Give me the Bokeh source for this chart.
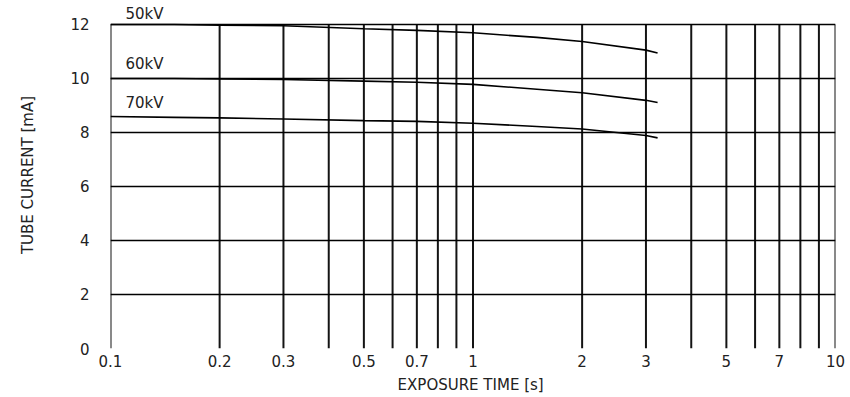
from bokeh.plotting import figure
from bokeh.models import FixedTicker, Label, Range1d, ColumnDataSource
from bokeh.embed import file_html
from bokeh.resources import INLINE

# ---- data ----
time_s = [0.1, 0.15, 0.2, 0.3, 0.5, 0.7, 1.0, 1.5, 2.0, 3.0, 3.23]
i_50kv = [12.0, 12.0, 11.97, 11.95, 11.84, 11.78, 11.69, 11.52, 11.37, 11.05, 10.94]
i_60kv = [10.0, 10.0, 9.98, 9.96, 9.90, 9.86, 9.78, 9.60, 9.47, 9.19, 9.11]
i_70kv = [8.59, 8.56, 8.54, 8.50, 8.44, 8.41, 8.34, 8.22, 8.13, 7.89, 7.80]

series_names = ["50kV", "60kV", "70kV"]
label_x = [0.11, 0.11, 0.11]
label_y = [12.07, 10.19, 8.74]

x_major = [0.1, 0.2, 0.3, 0.5, 0.7, 1, 2, 3, 5, 7, 10]
x_minor = [0.4, 0.6, 0.8, 0.9, 4, 6, 8, 9]
x_tick_labels = ["0.1", "0.2", "0.3", "0.5", "0.7", "1", "2", "3", "5", "7", "10"]
y_ticks = [0, 2, 4, 6, 8, 10, 12]
y_min, y_max = 0, 12

FONT = "DejaVu Sans"
TXT = "#222222"

# the y range reaches a little above 12 so that the "50kV" label (which sits above
# the top grid line) is drawn inside the frame; the box itself ends at 12.
p = figure(width=848, height=397, output_backend="svg", toolbar_location=None,
           x_axis_type="log", x_range=Range1d(0.1, 10), y_range=Range1d(0, 12.85),
           min_border_left=110, min_border_right=13, min_border_top=1, min_border_bottom=49)

# vertical grid lines (major + minor), drawn from 0 to 12 only
grid_x = sorted(x_major + x_minor)
p.segment(x0=grid_x, x1=grid_x, y0=[y_min] * len(grid_x), y1=[y_max] * len(grid_x),
          line_color="black", line_width=2, line_alpha=0.92)

src = ColumnDataSource(dict(t=time_s, a=i_50kv, b=i_60kv, c=i_70kv))
for col in ["a", "b", "c"]:
    p.line("t", col, source=src, line_color="black", line_width=1.6)

for name, lx, ly in zip(series_names, label_x, label_y):
    p.add_layout(Label(x=lx, y=ly, text=name, text_font=FONT, text_font_size="15px",
                       text_color=TXT, text_baseline="bottom", text_align="left"))

p.xaxis.ticker = FixedTicker(ticks=x_major, minor_ticks=x_minor)
p.xaxis.major_label_overrides = {t: l for t, l in zip(x_major, x_tick_labels)}
p.yaxis.ticker = FixedTicker(ticks=y_ticks)

p.xgrid.grid_line_color = None
p.xgrid.minor_grid_line_color = None
p.ygrid.grid_line_color = "black"
p.ygrid.grid_line_width = 1.6

p.outline_line_color = None

p.axis.axis_line_color = None
p.axis.major_tick_line_color = None
p.axis.minor_tick_line_color = None
p.axis.major_tick_out = 0
p.axis.major_tick_in = 0
p.axis.minor_tick_out = 0
p.axis.minor_tick_in = 0
p.axis.major_label_text_font = FONT
p.axis.major_label_text_font_size = "15px"
p.axis.major_label_text_color = TXT
p.axis.axis_label_text_font = FONT
p.axis.axis_label_text_font_size = "15px"
p.axis.axis_label_text_font_style = "normal"
p.axis.axis_label_text_color = TXT

p.xaxis.axis_label = "EXPOSURE TIME  [s]"
p.xaxis.major_label_standoff = 6
p.xaxis.axis_label_standoff = 6
p.yaxis.axis_label = "TUBE CURRENT [mA]"
p.yaxis.major_label_standoff = 21
p.yaxis.axis_label_standoff = 30

open("out.html", "w").write(file_html(p, INLINE))
